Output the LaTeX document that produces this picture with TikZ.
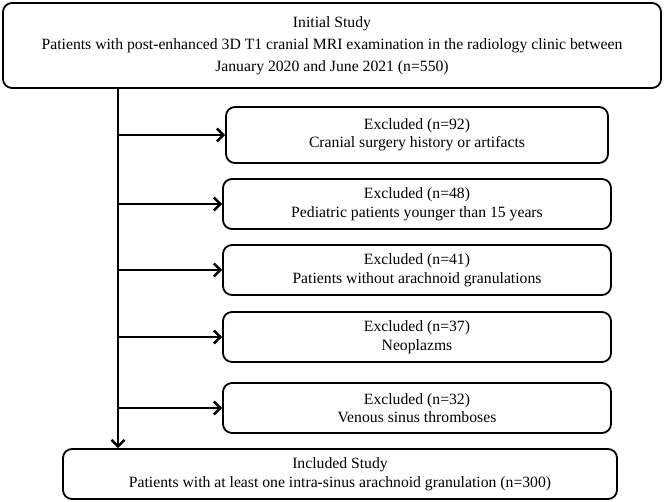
\documentclass[tikz,border=0pt]{standalone}
\usepackage{fontspec}
\setmainfont{Liberation Serif}
\usetikzlibrary{arrows.meta}
\newcommand{\exclbox}[5][]{
  \node[box, minimum width = 388pt, minimum height = 50pt, #1] (#2) at (417, #3) {Excluded (n=#4)\\#5};
}

\begin{document}
\begin{tikzpicture}[x = 1pt, y = -1pt, line join = round,
  box/.style = {draw, line width = 1.8pt, rounded corners = 9pt, align = center,
    inner sep = 0pt, font = \fontsize{15.7}{18.5}\selectfont},
  link/.style = {line width = 2.4pt, -{Straight Barb[length = 6.5pt, width = 13pt]}}]
  \useasboundingbox (0, 0) rectangle (664, 502);

  \node[box, minimum width = 658pt, minimum height = 85pt, font = \fontsize{15.7}{22}\selectfont]
    (initial) at (332, 45.5)
    {Initial Study\\Patients with post-enhanced 3D T1 cranial MRI examination in the radiology clinic between\\January 2020 and June 2021 (n=550)};

  \exclbox[minimum width = 382pt, minimum height = 56pt]{ex1}{135}{92}{Cranial surgery history or artifacts}
  \exclbox{ex2}{204}{48}{Pediatric patients younger than 15 years}
  \exclbox{ex3}{270}{41}{Patients without arachnoid granulations}
  \exclbox{ex4}{337}{37}{Neoplazms}
  \exclbox{ex5}{408}{32}{Venous sinus thromboses}

  \node[box, minimum width = 554pt, minimum height = 50pt] (included) at (340, 474)
    {Included Study\\Patients with at least one intra-sinus arachnoid granulation (n=300)};

  % main line down, side arrows out
  \coordinate (spine) at (118, 0);
  \draw[link] (initial.south -| spine) -- (included.north -| spine);
  \foreach \n in {1, ..., 5}
    \draw[link] (spine |- ex\n.west) -- (ex\n.west);
\end{tikzpicture}
\end{document}
